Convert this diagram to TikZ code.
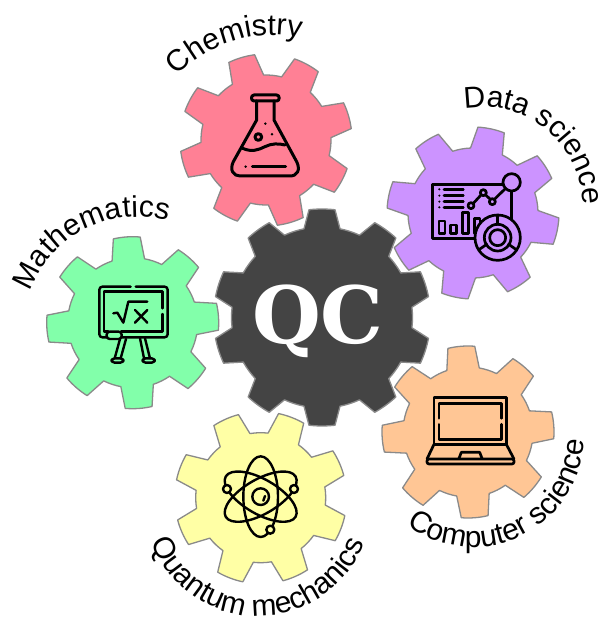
\documentclass[tikz,border=0pt]{standalone}
\usepackage{fontspec}
\setmainfont{Liberation Sans}
\newfontfamily\qcfont{DejaVu Serif}
\usetikzlibrary{decorations.text}
\definecolor{gearpink}{HTML}{FF8095}
\definecolor{gearpurple}{HTML}{CC93FF}
\definecolor{geargreen}{HTML}{82FFAA}
\definecolor{gearyellow}{HTML}{FFFFA5}
\definecolor{gearorange}{HTML}{FFC695}
\definecolor{geardark}{HTML}{444444}
\definecolor{gearedge}{HTML}{8A8A8A}
\tikzset{
  x=1pt,y=1pt,
  gearline/.style={draw=gearedge,line width=1.3pt,line join=round},
  iconline/.style={draw=black,line width=#1,line cap=round,line join=round},
  iconline/.default=3pt,
  zoomframe/.style={x=0.33333pt,y=-0.33333pt},
}
\newcommand{\gearshape}[9]{%
  \path[gearline,fill=#9,shift={(#1pt,622pt-#2pt)}]
    ({#6-#8}:#5pt)
    \foreach \i in {1,...,#3} {
      -- ({#6+(\i-1)*360/#3-#7}:#4pt)
      arc[start angle={#6+(\i-1)*360/#3-#7},delta angle={2*#7},radius=#4pt]
      -- ({#6+(\i-1)*360/#3+#8}:#5pt)
      arc[start angle={#6+(\i-1)*360/#3+#8},delta angle={360/#3-2*#8},radius=#5pt]
    } -- cycle;}
\newcommand{\arclabel}[6]{%
  \path[decorate,decoration={text along path,text align=center,
      text={|\fontsize{30}{32}\selectfont|#6}},shift={(#1pt,622pt-#2pt)}]
    ({#4}:#3pt) arc[start angle={#4},delta angle={#5},radius=#3pt];}
\begin{document}
\begin{tikzpicture}
\useasboundingbox (0,0) rectangle (604,622);
\fill[white] (0,0) rectangle (604,622);
\gearshape{266}{140}{8}{86}{65}{16.6}{9}{14.5}{gearpink}
\gearshape{473}{213}{8}{86}{65}{32.7}{9}{14.5}{gearpurple}
\gearshape{132.7}{322.7}{8}{86}{65}{4}{9}{14.5}{geargreen}
\gearshape{260.7}{497.7}{8}{86}{65}{24}{9}{14.5}{gearyellow}
\gearshape{468}{432}{8}{86}{65}{4.5}{9}{14.5}{gearorange}
\gearshape{322}{317.5}{10}{108.5}{90.5}{90}{6.9}{11.5}{geardark}
\node[text=white,font={\qcfont\bfseries\fontsize{79}{79}\selectfont},inner sep=0pt] (qc) at (318pt,622pt-321pt) {QC};

\arclabel{272}{165}{130}{162}{-110}{Chemistry}
\arclabel{483}{207}{100}{131}{-160}{Data science}
\arclabel{138}{333}{116}{185}{-136}{Mathematics}
\arclabel{473}{436}{111}{-147}{165}{Computer science}
\arclabel{258}{502}{114}{-180}{180}{Quantum mechanics}

% flask
\begin{scope}[shift={(180pt,582pt)},zoomframe,iconline]
\draw (230,183) -- (230,240) -- (160,365) .. controls (148,390) and (160,408) .. (180,408) -- (330,408) .. controls (352,408) and (362,390) .. (350,365) -- (282,240) -- (282,183);
\draw (222,165) -- (290,165) .. controls (300,165) and (300,183) .. (290,183) -- (222,183) .. controls (212,183) and (212,165) .. (222,165) -- cycle;
\draw (188,325) .. controls (215,337) and (235,330) .. (255,320) .. controls (275,310) and (295,310) .. (315,315);
\draw (235,291) circle[radius=10];
\fill (256,251) circle[radius=4];
\fill (276,283) circle[radius=4];
\fill (197,380) circle[radius=4];
\draw (217,380) -- (317,380);
\end{scope}

% data science
\begin{scope}[shift={(385pt,497pt)},zoomframe,iconline=2.7pt]
\draw[line cap=butt] (358,178) -- (143,178) -- (143,340) -- (280,340);
\draw (380,200) -- (380,290);
\draw (380,172) circle[radius=26];
\draw (258,242) circle[radius=9];
\draw (295,203) circle[radius=9];
\draw (322,230) circle[radius=9];
\draw (265,235) -- (288,210);
\draw (302,210) -- (315,222);
\draw (329,222) -- (362,190);
\foreach \yy in {193,212,230,247} {
  \fill (163,\yy) circle[radius=3.5];
  \draw (177,\yy) -- (235,\yy);
}
\draw (162,288) rectangle (180,325);
\draw (197,300) rectangle (215,325);
\draw (232,262) rectangle (250,325);
\draw (268,280) rectangle (285,325);
\draw[fill=gearpurple] (338,338) circle[radius=68];
\draw (338,338) circle[radius=40];
\draw (338,338) circle[radius=24];
\draw (338,272) -- (338,298);
\draw (282,374) -- (305,358);
\draw (394,374) -- (371,358);
\end{scope}

% mathematics
\begin{scope}[shift={(40pt,392pt)},zoomframe,iconline=2.4pt]
\draw[rounded corners=3pt] (272,170) -- (178,170) -- (178,322) -- (200,322);
\draw[rounded corners=3pt] (245,322) -- (383,322) -- (383,170) -- (287,170);
\draw (367,235) -- (367,185) -- (192,185) -- (192,305) -- (205,305);
\draw (367,252) -- (367,305) -- (243,305);
\draw[rounded corners=3pt,fill=geargreen] (200,305) rectangle (245,327);
\draw (240,327) -- (224,385);
\draw (258,327) -- (242,385);
\draw (300,325) -- (312,385);
\draw (315,325) -- (330,385);
\draw[rounded corners=3pt] (215,385) rectangle (250,398);
\draw[rounded corners=3pt] (308,385) rectangle (344,398);
\draw (220,250) -- (232,248) -- (250,278) -- (265,215) -- (322,215);
\draw (285,240) -- (322,278);
\draw (322,240) -- (285,278);
\end{scope}

% atom
\begin{scope}[shift={(175pt,212pt)},zoomframe,iconline=2.4pt]
\draw (257,260) ellipse[x radius=52,y radius=121];
\draw[rotate around={60:(257,260)}] (257,260) ellipse[x radius=52,y radius=121];
\draw[rotate around={-60:(257,260)}] (257,260) ellipse[x radius=52,y radius=121];
\draw (257,260) circle[radius=25];
\draw (270,258) -- (265,272);
\draw[fill=gearyellow] (156,237) circle[radius=12];
\draw[fill=gearyellow] (357,237) circle[radius=12];
\draw[fill=gearyellow] (286,359) circle[radius=12];
\end{scope}

% laptop
\begin{scope}[shift={(378pt,277pt)},zoomframe,iconline=2.7pt]
\draw (168,298) rectangle (385,158);
\draw (370,220) -- (370,175) -- (183,175) -- (183,220);
\draw (183,238) -- (183,283) -- (370,283) -- (370,238);
\draw (168,298) -- (147,342);
\draw (385,298) -- (408,342);
\draw[rounded corners=2pt] (147,342) rectangle (408,357);
\draw (243,340) -- (250,322) -- (305,322) -- (312,340);
\end{scope}
\end{tikzpicture}
\end{document}
